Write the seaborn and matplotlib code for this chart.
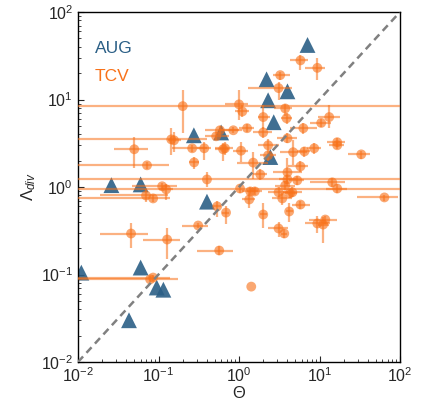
import numpy as np
import pandas as pd
import matplotlib
matplotlib.use("Agg")
import matplotlib.pyplot as plt
import seaborn as sns

# ---------------- data ----------------
aug_theta  = [7.1, 2.2, 4.0, 2.3, 2.7, 2.45, 0.275, 0.6, 0.026, 0.06, 0.4, 0.011, 0.06, 0.095, 0.115, 0.043]
aug_lambda = [42, 17, 12.4, 9.8, 5.5, 2.2, 3.9, 4.2, 1.05, 1.07, 0.68, 0.105, 0.12, 0.071, 0.067, 0.030]

tcv_theta = [5.8, 9.4, 3.25, 3.1, 0.2, 1.0, 1.1, 3.75, 2.0, 3.9, 13.2, 10.5, 6.3, 0.85, 1.26, 2.0,
             4.0, 0.67, 1.06, 2.3, 4.7, 6.5, 8.6, 16.6, 16.6, 33, 2.3, 1.5, 5.8, 1.84, 4.0, 4.0,
             5.3, 3.75, 14.4, 16.6, 1.03, 1.38, 1.57, 3.1, 4.6, 1.34, 3.45, 5.8, 4.3, 4.2, 2.0,
             3.1, 3.65, 9.4, 11.8, 11.1, 1.42, 64, 0.144, 0.156, 0.05, 0.072, 0.262, 0.37, 0.277,
             0.52, 0.635, 0.58, 0.40, 0.111, 0.1245, 0.070, 0.0857, 0.536, 0.69, 0.311, 0.0456,
             0.128, 0.568, 0.0857, 0.0787]
tcv_lambda = [28, 23, 19, 13.5, 8.4, 8.8, 7.3, 7.9, 6.3, 6.1, 6.3, 5.4, 4.7, 4.45, 4.7, 4.2,
              3.6, 2.77, 2.6, 3.0, 2.5, 2.55, 2.77, 3.25, 3.0, 2.36, 2.3, 1.9, 1.72, 1.39, 1.47, 1.22,
              1.19, 1.04, 1.13, 0.96, 0.96, 0.89, 0.89, 0.87, 0.87, 0.72, 0.74, 0.63, 0.85, 0.525, 0.485,
              0.336, 0.294, 0.383, 0.425, 0.372, 0.0727, 0.76, 3.5, 3.42, 2.7, 1.77, 2.77, 2.77, 1.91,
              3.8, 2.7, 4.45, 1.22, 1.02, 0.94, 0.80, 0.74, 0.60, 0.51, 0.363, 0.294,
              0.251, 0.188, 0.0923, 0.088]
tcv_theta_lo = [4.3, 6.6, 2.65, 1.3, 0.01, 0.67, 0.9, 2.7, 1.7, 3.3, 9.7, 7.7, 4.3, 0.6, 1.0, 1.5,
                3.0, 0.5, 0.85, 1.7, 3.25, 5.3, 6.9, 12.5, 13, 22.8, 1.8, 0.95, 4.1, 1.5, 2.65, 3.1,
                4.2, 2.8, 7.7, 12, 0.01, 1.1, 1.25, 2.3, 3.5, 1.1, 2.6, 4.6, 3.5, 3.8, 1.8,
                2.3, 3.3, 6.6, 7.4, 9.5, 1.42, 29.5, 0.01, 0.13, 0.028, 0.01, 0.148, 0.3, 0.24,
                0.38, 0.5, 0.38, 0.01, 0.047, 0.1, 0.0188, 0.01, 0.48, 0.62, 0.197, 0.0188,
                0.0643, 0.302, 0.01, 0.01]
tcv_theta_hi = [7.3, 11.8, 4.3, 4.6, 100, 1.3, 1.35, 4.6, 2.4, 4.6, 18, 14, 9.4, 1.1, 1.55, 2.6,
                5.3, 0.85, 1.3, 3.1, 7.0, 7.7, 10.5, 21, 20, 43, 2.9, 2.3, 7.3, 2.2, 6.1, 5.1,
                6.5, 5.0, 21, 22, 100, 1.7, 1.95, 4.1, 6.0, 1.6, 4.5, 7.6, 5.3, 4.7, 2.2,
                4.1, 4.0, 13.6, 16.6, 13, 1.42, 95, 0.40, 0.19, 0.074, 0.135, 0.40, 0.45, 0.32,
                0.75, 0.75, 1.0, 100, 0.17, 0.15, 0.1315, 0.139, 0.6, 0.76, 0.414, 0.0743,
                0.186, 0.848, 0.139, 0.175]
tcv_lambda_lo = [21.7, 16.6, 16.6, 9.8, 4.1, 5.8, 6.3, 6.5, 4.6, 5.3, 4.7, 4.9, 4.0, 4.1, 4.2, 3.6,
                 3.2, 2.3, 1.95, 2.6, 1.77, 2.2, 2.4, 2.9, 2.7, 2.1, 2.0, 1.25, 1.5, 1.2, 1.04, 1.08,
                 1.05, 0.93, 1.0, 0.86, 0.85, 0.8, 0.8, 0.76, 0.76, 0.58, 0.62, 0.56, 0.75, 0.4, 0.336,
                 0.27, 0.26, 0.3, 0.38, 0.23, 0.0727, 0.7, 2.3, 2.5, 1.63, 1.6, 2.5, 2.02, 1.6,
                 3.4, 2.0, 4.0, 1.0, 0.95, 0.71, 0.67, 0.68, 0.45, 0.38, 0.34, 0.203,
                 0.152, 0.165, 0.085, 0.082]
tcv_lambda_hi = [32, 30, 20.6, 15.8, 12.8, 12.8, 8.6, 8.8, 8.6, 7.0, 8.6, 6.0, 5.4, 4.8, 5.2, 4.9,
                 4.1, 3.3, 3.3, 3.5, 3.4, 2.9, 3.2, 3.6, 3.3, 2.6, 2.6, 2.5, 2.0, 1.6, 2.13, 1.38,
                 1.35, 1.17, 1.27, 1.08, 1.08, 1.0, 1.0, 1.0, 1.0, 0.9, 0.86, 0.7, 0.96, 0.65, 0.65,
                 0.4, 0.33, 0.47, 0.47, 0.45, 0.0727, 0.82, 4.7, 4.3, 3.7, 1.95, 3.0, 3.24, 2.2,
                 4.2, 3.2, 5.0, 1.47, 1.1, 1.08, 0.95, 0.8, 0.70, 0.6, 0.39, 0.383,
                 0.344, 0.21, 0.1, 0.095]

series_labels = ["AUG", "TCV"]
x_limits = [1e-2, 1e2]
y_limits = [1e-2, 1e2]

# ---------------- style ----------------
sns.set_style("ticks")
plt.rcParams["font.family"] = ["Liberation Sans", "DejaVu Sans"]
plt.rcParams["mathtext.fontset"] = "custom"
plt.rcParams["mathtext.rm"] = "Liberation Sans"
plt.rcParams["mathtext.it"] = "Liberation Sans:italic"
plt.rcParams["mathtext.bf"] = "Liberation Sans:bold"

aug_color = "#2b5f86"
tcv_color = "#f8721a"

fig = plt.figure(figsize=(4.28, 4.03), dpi=100)
ax = fig.add_axes([78 / 428, 1 - 362 / 403, 322 / 428, 350 / 403])

aug_df = pd.DataFrame({"theta": aug_theta, "lam": aug_lambda})
tcv_df = pd.DataFrame({"theta": tcv_theta, "lam": tcv_lambda,
                       "xlo": tcv_theta_lo, "xhi": tcv_theta_hi,
                       "ylo": tcv_lambda_lo, "yhi": tcv_lambda_hi})

ax.set_xscale("log")
ax.set_yscale("log")

ax.plot(x_limits, y_limits, ls=(0, (3, 2)), color="gray", lw=1.8, zorder=4)

sns.scatterplot(data=aug_df, x="theta", y="lam", marker="^", s=130, color=aug_color,
                edgecolor="none", alpha=0.9, ax=ax, zorder=2, legend=False)

xerr = np.array([tcv_df["theta"] - tcv_df["xlo"], tcv_df["xhi"] - tcv_df["theta"]])
yerr = np.array([tcv_df["lam"] - tcv_df["ylo"], tcv_df["yhi"] - tcv_df["lam"]])
ax.errorbar(tcv_df["theta"], tcv_df["lam"], xerr=xerr, yerr=yerr, fmt="none",
            ecolor=tcv_color, elinewidth=1.6, alpha=0.55, capsize=0, zorder=3)
sns.scatterplot(data=tcv_df, x="theta", y="lam", marker="o", s=50, color=tcv_color,
                edgecolor="none", alpha=0.62, ax=ax, zorder=3, legend=False)

ax.set_xlim(x_limits)
ax.set_ylim(y_limits)
ax.set_xlabel(r"$\Theta$", fontsize=12, labelpad=0)
ax.set_ylabel(r"$\Lambda_{div}$", fontsize=12, labelpad=2)
ax.tick_params(which="both", direction="in", top=False, right=False, labelsize=11.5)
ax.tick_params(axis="x", which="major", pad=3)
ax.tick_params(which="major", length=4)
ax.tick_params(which="minor", length=2)
for sp in ax.spines.values():
    sp.set_visible(True)
    sp.set_linewidth(1.0)
    sp.set_color("black")

ax.text(0.053, 0.895, series_labels[0], color=aug_color, fontsize=12.5,
        transform=ax.transAxes, va="center", ha="left")
ax.text(0.053, 0.815, series_labels[1], color=tcv_color, fontsize=12.5,
        transform=ax.transAxes, va="center", ha="left")

fig.savefig("out.png", dpi=100)
